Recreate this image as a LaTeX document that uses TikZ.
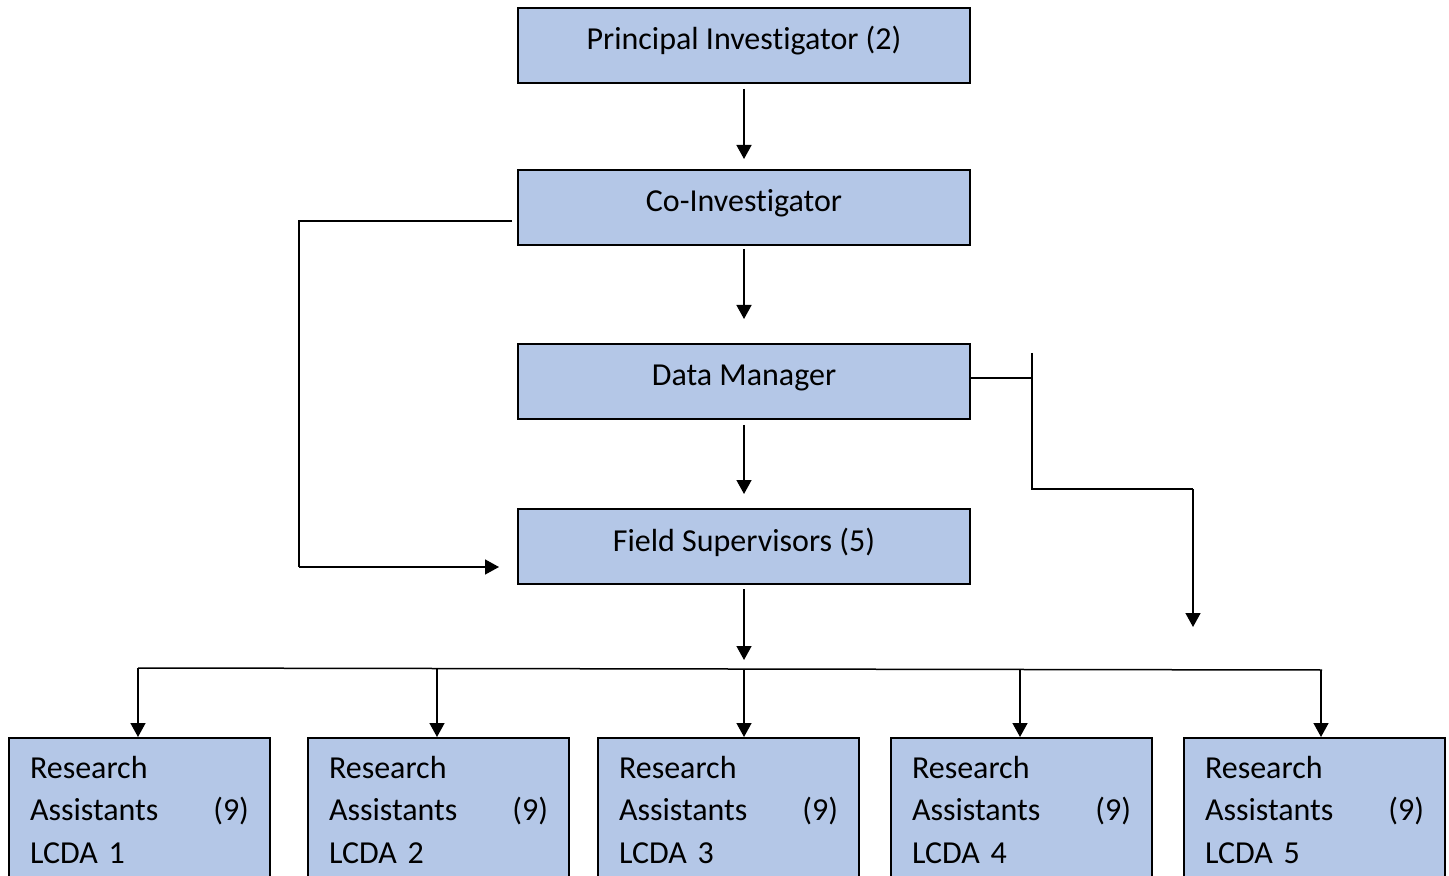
\documentclass[tikz,border=0pt]{standalone}
\usepackage{fontspec}
\setmainfont[Ligatures=NoCommon]{Carlito}
\usepackage{tikz}
\usetikzlibrary{arrows.meta}
\definecolor{boxblue}{HTML}{B4C7E7}

\begin{document}
\begin{tikzpicture}[x=0.5pt,y=-0.5pt,
    box/.style = {draw, line width=1pt, fill=boxblue, minimum width=226pt,
                  inner ysep=0pt, text height=21pt, text depth=16.5pt},
    rabox/.style = {draw, line width=1pt, fill=boxblue, anchor=north west,
                    text width=109.5pt, align=left, inner xsep=10.5pt,
                    inner ysep=9pt, text depth=62pt},
    arr/.style = {line width=0.75pt, -{Triangle[length=7pt,width=7.5pt]}},
    line/.style = {line width=0.75pt}]
\fontsize{16}{21.25}\selectfont
\useasboundingbox (0,0) rectangle (1449,876);

\node[box] (pi)  at (744,45.5)  {Principal Investigator (2)};
\node[box] (coi) at (744,207.5) {Co-Investigator};
\node[box] (dm)  at (744,381.5) {Data Manager};
\node[box] (fs)  at (744,546.5) {Field Supervisors (5)};

\begin{scope}
\clip (0,0) rectangle (1449,876);
\node[rabox] (ra1) at (8,737)    {Research\\Assistants\hskip 0pt plus 1fill(9)\\LCDA 1};
\node[rabox] (ra2) at (307,737)  {Research\\Assistants\hskip 0pt plus 1fill(9)\\LCDA 2};
\node[rabox] (ra3) at (597,737)  {Research\\Assistants\hskip 0pt plus 1fill(9)\\LCDA 3};
\node[rabox] (ra4) at (890,737)  {Research\\Assistants\hskip 0pt plus 1fill(9)\\LCDA 4};
\node[rabox] (ra5) at (1183,737) {Research\\Assistants\hskip 0pt plus 1fill(9)\\LCDA 5};
\end{scope}

% main chain
\draw[arr] ([yshift=-2.5pt]pi.south) -- ([yshift=5pt]coi.north);
\draw[arr] ([yshift=-1.5pt]coi.south) -- ([yshift=12pt]dm.north);
\draw[arr] ([yshift=-2.5pt]dm.south) -- ([yshift=7pt]fs.north);

% co-investigator to field supervisors
\coordinate (lt) at (299,221);
\coordinate (lb) at (299,567);
\draw[line] ([xshift=-2.5pt]coi.west |- lt) -- (lt) -- (lb);
\draw[arr] (lb) -- ([xshift=-9pt]fs.west |- lb);

% data manager branch
\coordinate (dj) at (1032,378);
\coordinate (rt) at (1032,353);
\coordinate (rb) at (1032,489);
\coordinate (rc) at (1193,489);
\coordinate (re) at (1193,627);
\draw[line] (dm.east |- dj) -- (dj);
\draw[line] (rt) -- (rb) -- (rc);
\draw[arr] (rc) -- (re);

% field supervisors to research assistants
\coordinate (bus) at (744,669);
\draw[arr] ([yshift=-2pt]fs.south) -- ([yshift=4.5pt]bus);
\draw[line] (138,668) -- (1322,670);
\draw[arr] (138,668) -- (ra1.north -| 138,0);
\draw[arr] (437,668) -- (ra2.north -| 437,0);
\draw[arr] (bus) -- (ra3.north -| 744,0);
\draw[arr] (1020,670) -- (ra4.north -| 1020,0);
\draw[arr] (1321,670) -- (ra5.north -| 1321,0);
\end{tikzpicture}
\end{document}
